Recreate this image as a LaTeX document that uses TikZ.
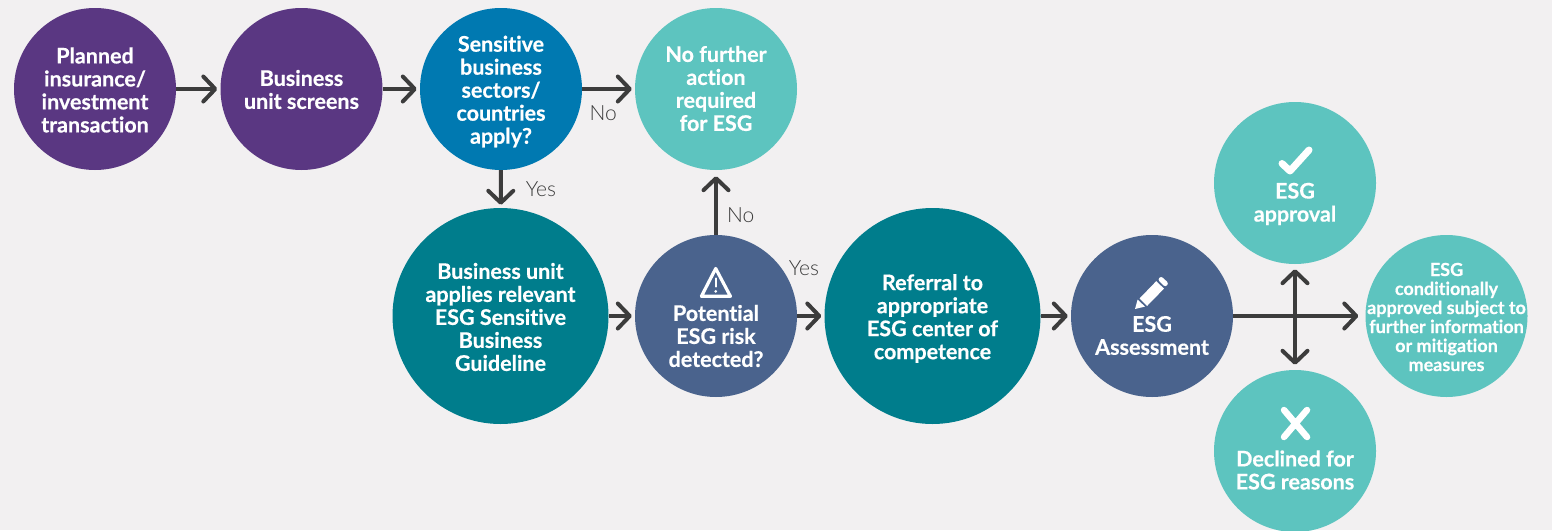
\documentclass[tikz,border=0pt]{standalone}
\usepackage{fontspec}
\setmainfont{Lato}[Ligatures=NoCommon,BoldFeatures={FakeBold=0.5}]
\newfontfamily\lightf{Lato Light}
\usetikzlibrary{arrows.meta}
\definecolor{bgc}{HTML}{F2F0F1}
\definecolor{purp}{HTML}{5A3782}
\definecolor{blu}{HTML}{0079B1}
\definecolor{teald}{HTML}{007D8C}
\definecolor{teall}{HTML}{5DC4BF}
\definecolor{slate}{HTML}{4A638D}
\definecolor{arrowc}{HTML}{3C3C3C}
\tikzset{
  small/.style={circle,draw=none,minimum size=162pt,inner sep=0pt},
  big/.style={circle,draw=none,minimum size=216pt,inner sep=0pt},
  txt/.style={text=white,align=center,inner sep=0pt,font=\bfseries\fontsize{21.5}{23}\selectfont},
  txts/.style={text=white,align=center,inner sep=0pt,font=\bfseries\fontsize{18}{19}\selectfont},
  barb/.tip={Straight Barb[length=12pt,width=25pt,line cap=round,round]},
  conn/.style={draw=arrowc,line width=4pt,-barb},
  connb/.style={draw=arrowc,line width=4pt,barb-barb},
  lab/.style={text=arrowc,inner sep=0pt,font=\lightf\fontsize{21}{23}\selectfont},
  icon/.style={draw=white,line cap=round,line join=round}
}
\begin{document}
\begin{tikzpicture}[x=1pt,y=-1pt]
\useasboundingbox (0,0) rectangle (1557,530);
\fill[white] (0,0) rectangle (1557,530);
\fill[bgc] (0,0) rectangle (1552,530);
\node[small,fill=purp,label={[txt,yshift=-1pt]center:{Planned\\insurance/\\investment\\transaction}}] (A) at (95,89) {};
\node[small,fill=purp,label={[txt,yshift=-0.5pt]center:{Business\\unit screens}}] (B) at (301.5,89) {};
\node[small,fill=blu,label={[txt,yshift=-2.5pt]center:{Sensitive\\business\\sectors/\\countries\\apply?}}] (C) at (501,89) {};
\node[small,fill=teall,label={[txt,yshift=0.5pt]center:{No further\\action\\required\\for ESG}}] (D) at (716,89) {};
\node[big,fill=teald,label={[txt,yshift=-1pt]center:{Business unit\\applies relevant\\ESG Sensitive\\Business\\Guideline}}] (E) at (500.5,316) {};
\node[small,fill=slate,label={[txt,yshift=-20pt]center:{Potential\\ESG risk\\detected?}}] (F) at (716,316) {};
\node[big,fill=teald,label={[txt,yshift=-2.5pt]center:{Referral to\\appropriate\\ESG center of\\competence}}] (G) at (932.5,316) {};
\node[small,fill=slate,label={[txt,yshift=-19.5pt]center:{ESG\\Assessment}}] (H) at (1152,316) {};
\node[small,fill=teall,label={[txt,yshift=-21pt]center:{ESG\\approval}}] (I) at (1295,183) {};
\node[small,fill=teall,label={[txts,yshift=-1pt]center:{ESG\\conditionally\\approved subject to\\further information\\or mitigation\\measures}}] (J) at (1446.5,316) {};
\node[small,fill=teall,label={[txt,yshift=-19pt]center:{Declined for\\ESG reasons}}] (K) at (1295,451) {};
% connectors
\draw[conn,shorten >=3pt] (A) -- (B);
\draw[conn,shorten >=3pt] (B) -- (C);
\draw[conn,shorten >=3pt] (C) -- node[lab,pos=0.4,below=15pt] (no1) {No} (D);
\draw[conn,shorten >=3pt] (C) -- node[lab,right=23pt] (yes1) {Yes} (E);
\draw[conn,shorten >=3pt] (E) -- (F);
\draw[conn,shorten >=3pt] (F) -- (G);
\draw[conn,shorten >=6pt] (F) -- node[lab,right=9pt,pos=0.3] (no2) {No} (D);
\draw[conn,shorten >=3pt] (G) -- (H);
\draw[conn,shorten >=7pt] (H) -- (J);
\draw[connb,shorten >=5pt,shorten <=5pt] (I) -- (K);
\node[lab] (yes2) at (804,268) {Yes};
% icons
\draw[icon,line width=7pt] (1282,163.5) -- (1290,171) -- (1309,150);
\draw[icon,line width=6.5pt] (1284,410) -- (1307,437) (1307,410) -- (1284,437);
\draw[icon,line width=3.2pt] (715.7,268.5) -- (730.4,296.3) -- (701.4,296.3) -- cycle;
\draw[icon,line width=2.4pt] (715.7,278.5) -- (715.7,286.5);
\fill[white] (715.7,291.3) circle (1.5pt);
% pencil
\fill[white] (1135,309) -- (1137.6,299.6) -- (1145,306.6) -- cycle;
\fill[white] (1139.6,298.4) -- (1156.2,281.2) -- (1164,288.6) -- (1147,306) -- cycle;
\fill[white,rounded corners=2.5pt] (1157.6,279.6) -- (1161,276) -- (1168.8,283.4) -- (1165.4,287.2) -- cycle;
\end{tikzpicture}
\end{document}
